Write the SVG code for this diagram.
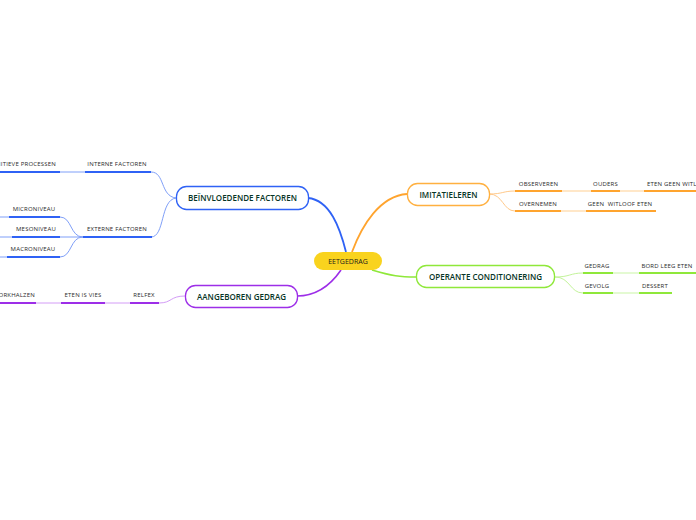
<svg xmlns="http://www.w3.org/2000/svg" width="696" height="520" viewBox="0 0 696 520">
<style>
.main{font-family:"Open Sans","Liberation Sans",sans-serif;font-size:8px;fill:#063526;text-anchor:middle;font-weight:600}
.sub{font-family:"Open Sans","Liberation Sans",sans-serif;font-size:6px;letter-spacing:0.2px;fill:#2a2a2a;text-anchor:middle}
.c{fill:none}
</style>
<rect width="696" height="520" fill="#fff"/>
<g id="connectors" class="c">
  <path d="M308,198 C330,200 340,228 346,252" stroke="#2f62f5" stroke-width="1.8"/>
  <path d="M407,194 C380,196 362,225 352,252" stroke="#ffa42e" stroke-width="1.8"/>
  <path d="M372,270 C392,276 400,277 416,277" stroke="#8fe83a" stroke-width="1.6"/>
  <path d="M341,270 C330,286 315,296 297,296" stroke="#9d2ee8" stroke-width="1.6"/>
  <path d="M176,198 C160,196 165,172 151,172" stroke="#7f9ff8" stroke-width="1"/>
  <path d="M176,198 C160,200 165,237 151,237" stroke="#7f9ff8" stroke-width="1"/>
  <path d="M60,172 H85" stroke="#7f9ff8" stroke-width="1"/>
  <path d="M83,237 C70,237 72,217 60,217" stroke="#7f9ff8" stroke-width="1"/>
  <path d="M83,237 H60" stroke="#7f9ff8" stroke-width="1"/>
  <path d="M83,237 C70,237 72,257 60,257" stroke="#7f9ff8" stroke-width="1"/>
  <path d="M0,217 H9 M0,237 H12 M0,257 H7" stroke="#7f9ff8" stroke-width="1"/>
  <path d="M489,194 C503,194 503,191 515,191" stroke="#ffc98a" stroke-width="1"/>
  <path d="M489,194 C503,194 503,211 515,211" stroke="#ffc98a" stroke-width="1"/>
  <path d="M562,191 H591 M620,191 H644 M561,211 H586" stroke="#ffe0b6" stroke-width="1.6"/>
  <path d="M555,277 C570,277 570,273 583,273" stroke="#c3f39a" stroke-width="1"/>
  <path d="M555,277 C570,277 570,293 583,293" stroke="#c3f39a" stroke-width="1"/>
  <path d="M613,273 H639 M613,293 H639" stroke="#dcf9c3" stroke-width="1.6"/>
  <path d="M185,296 C170,296 172,303 159,303" stroke="#d39cf6" stroke-width="1"/>
  <path d="M36,303 H61 M105,303 H130" stroke="#d39cf6" stroke-width="1"/>
</g>
<g id="n-eetgedrag">
  <rect x="314" y="252" width="68" height="18" rx="9" fill="#f9d31e"/>
  <text class="main" x="348" y="263.5" style="font-size:7px;fill:#1a1a1a;font-weight:400">EETGEDRAG</text>
</g>
<g id="n-beinvloedende">
  <rect x="176.5" y="186.5" width="132" height="23" rx="10" fill="#fff" stroke="#2f62f5" stroke-width="1.3"/>
  <text class="main" x="242.5" y="200.8">BEÏNVLOEDENDE FACTOREN</text>
</g>
<g id="n-imitatieleren">
  <rect x="407.5" y="183.5" width="82" height="22" rx="10" fill="#fff" stroke="#ffb040" stroke-width="1.3"/>
  <text class="main" x="448.5" y="197.5">IMITATIELEREN</text>
</g>
<g id="n-operante">
  <rect x="416.5" y="265.5" width="138" height="22" rx="10" fill="#fff" stroke="#8fe83a" stroke-width="1.3"/>
  <text class="main" x="485.5" y="279.5">OPERANTE CONDITIONERING</text>
</g>
<g id="n-aangeboren">
  <rect x="185.5" y="285.5" width="112" height="22" rx="10" fill="#fff" stroke="#9d2ee8" stroke-width="1.3"/>
  <text class="main" x="241.5" y="299.5">AANGEBOREN GEDRAG</text>
</g>
<g id="n-interne">
  <path d="M85,172 H151" stroke="#2f62f5" stroke-width="2"/>
  <text class="sub" x="117" y="166">INTERNE FACTOREN</text>
</g>
<g id="n-cognitieve">
  <path d="M0,172 H60" stroke="#2f62f5" stroke-width="2"/>
  <text class="sub" x="56" y="166" style="text-anchor:end">COGNITIEVE PROCESSEN</text>
</g>
<g id="n-externe">
  <path d="M83,237 H152" stroke="#2f62f5" stroke-width="2"/>
  <text class="sub" x="117" y="231">EXTERNE FACTOREN</text>
</g>
<g id="n-micro">
  <path d="M9,217 H60" stroke="#2f62f5" stroke-width="2"/>
  <text class="sub" x="34" y="211">MICRONIVEAU</text>
</g>
<g id="n-meso">
  <path d="M12,237 H60" stroke="#2f62f5" stroke-width="2"/>
  <text class="sub" x="36" y="231">MESONIVEAU</text>
</g>
<g id="n-macro">
  <path d="M7,257 H60" stroke="#2f62f5" stroke-width="2"/>
  <text class="sub" x="33" y="251">MACRONIVEAU</text>
</g>
<g id="n-relfex">
  <path d="M130,303 H159" stroke="#9d2ee8" stroke-width="2"/>
  <text class="sub" x="144" y="297">RELFEX</text>
</g>
<g id="n-etenisvies">
  <path d="M61,303 H105" stroke="#9d2ee8" stroke-width="2"/>
  <text class="sub" x="83" y="297">ETEN IS VIES</text>
</g>
<g id="n-kokhalzen">
  <path d="M0,303 H36" stroke="#9d2ee8" stroke-width="2"/>
  <text class="sub" x="35" y="297" style="text-anchor:end">KORKHALZEN</text>
</g>
<g id="n-observeren">
  <path d="M515,191 H562" stroke="#ffa42e" stroke-width="2"/>
  <text class="sub" x="538.5" y="185.5">OBSERVEREN</text>
</g>
<g id="n-ouders">
  <path d="M591,191 H620" stroke="#ffa42e" stroke-width="2"/>
  <text class="sub" x="605.5" y="185.5">OUDERS</text>
</g>
<g id="n-etengeenwitloof">
  <path d="M644,191 H696" stroke="#ffa42e" stroke-width="2"/>
  <text class="sub" x="647" y="185.5" style="text-anchor:start">ETEN GEEN WITLOOF</text>
</g>
<g id="n-overnemen">
  <path d="M515,211 H561" stroke="#ffa42e" stroke-width="2"/>
  <text class="sub" x="538" y="205.5">OVERNEMEN</text>
</g>
<g id="n-geenwitloofeten">
  <path d="M586,211 H656" stroke="#ffa42e" stroke-width="2"/>
  <text class="sub" x="620" y="205.5" style="white-space:pre">GEEN  WITLOOF ETEN</text>
</g>
<g id="n-gedrag">
  <path d="M583,273 H613" stroke="#8fe83a" stroke-width="2"/>
  <text class="sub" x="597" y="267.5">GEDRAG</text>
</g>
<g id="n-bordleegeten">
  <path d="M639,273 H696" stroke="#8fe83a" stroke-width="2"/>
  <text class="sub" x="667" y="267.5">BORD LEEG ETEN</text>
</g>
<g id="n-gevolg">
  <path d="M583,293 H613" stroke="#8fe83a" stroke-width="2"/>
  <text class="sub" x="597" y="287.5">GEVOLG</text>
</g>
<g id="n-dessert">
  <path d="M639,293 H672" stroke="#8fe83a" stroke-width="2"/>
  <text class="sub" x="655" y="287.5">DESSERT</text>
</g>
</svg>
